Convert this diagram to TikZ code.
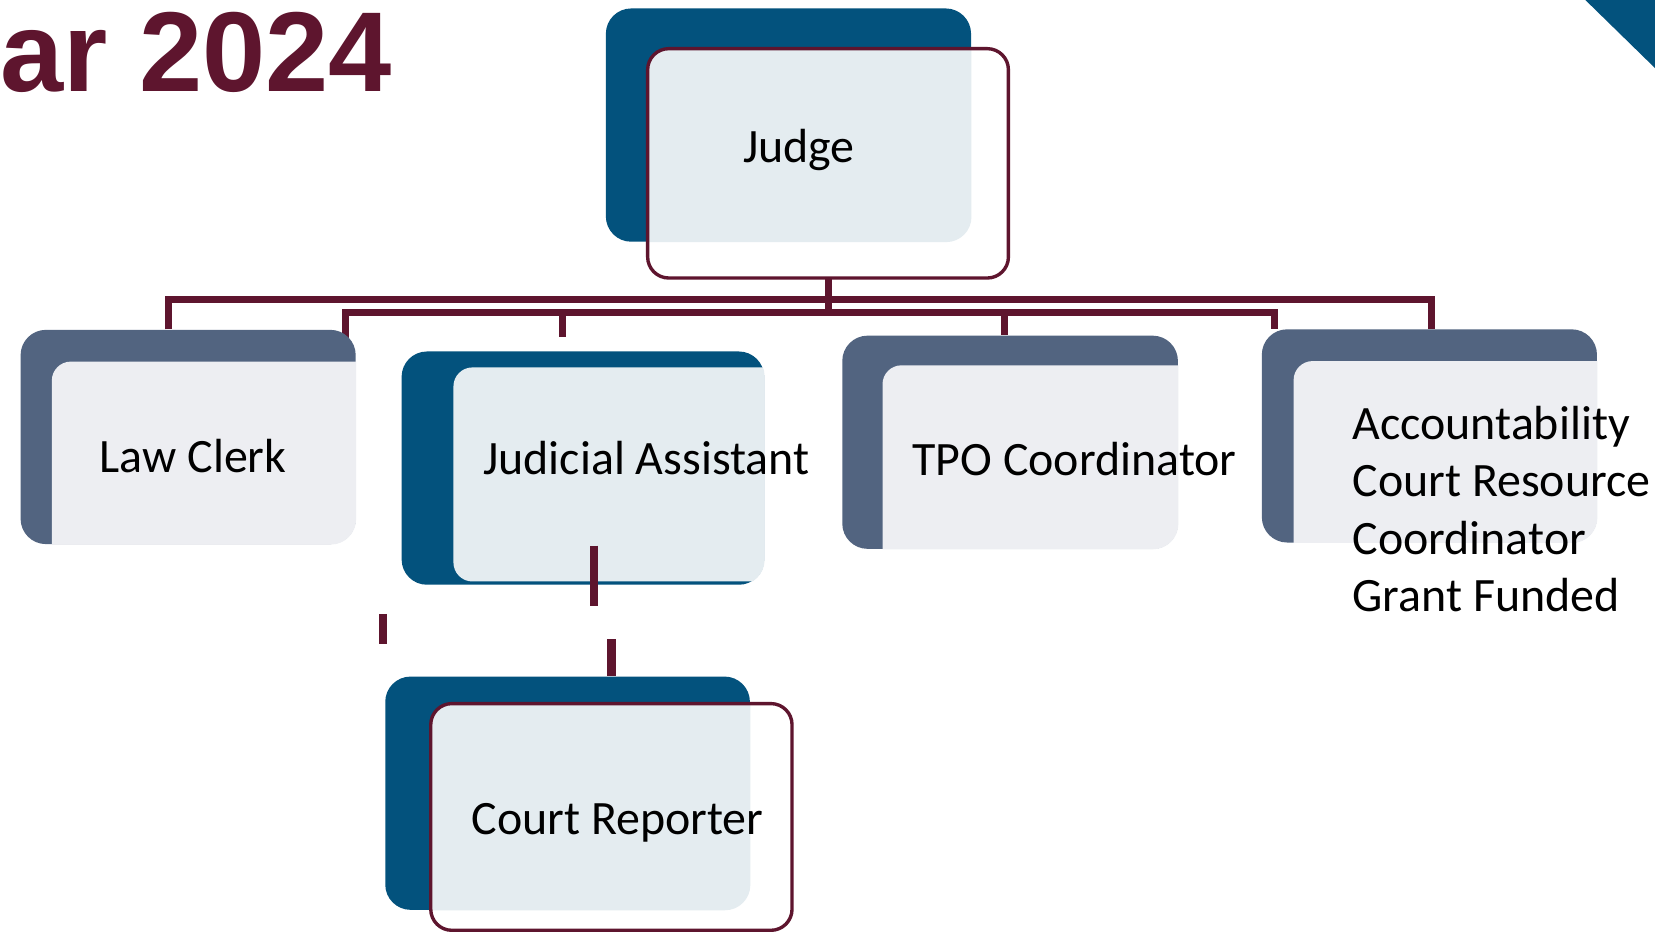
\documentclass[tikz,border=0pt]{standalone}
\usepackage{fontspec}
\setmainfont{Carlito}
\newfontfamily\headfont{Liberation Sans}
\usetikzlibrary{positioning, calc, fit, backgrounds}
\definecolor{navy}{RGB}{3,82,125}
\definecolor{slate}{RGB}{82,100,128}
\definecolor{paleblue}{RGB}{228,236,240}
\definecolor{palegrey}{RGB}{237,238,242}
\definecolor{wine}{RGB}{94,21,46}
\tikzset
{
backbox/.style={rectangle, rounded corners=12pt, inner sep=0, fill=#1},
frontbox/.style={rectangle, rounded corners=9pt, inner sep=0},
redline/.style={draw=wine, line width=1.6pt, rounded corners=10pt},
link/.style={draw=wine, line width=3.3pt},
stub/.style={draw=wine, line width=4pt},
role/.style={inner sep=0, font=\fontsize{22.7}{27.3}\selectfont, anchor=base},
heading/.style={inner sep=0, text=wine, font=\headfont\bfseries\fontsize{53.8}{60}\selectfont, anchor=base west}
}
\begin{document}
\begin{tikzpicture}[x=0.5pt, y=-0.5pt]
	\useasboundingbox (0,0) rectangle (1568,883);
	\coordinate (upl) at (159.5,283.5);
	\coordinate (upr) at (1356.5,283.5);
	\coordinate (lol) at (327,296);
	\coordinate (lor) at (1207.5,296);
	\coordinate (lolfoot) at (327,330);
	\coordinate (jahang) at (532.6,319.5);
	\coordinate (tpohang) at (951.5,296);

	\node[heading] (year) at (0,86.5) {ar 2024};
	\fill[navy] (1502,0) -- (1568,0) -- (1568,64.5) -- cycle;

	% judge
	\node[backbox=navy, fit={(574,8) (920,229)}] (judgeback) {};
	\node[frontbox, fill=white, fit={(614,46.5) (955,263)}] (judge) {};
	\begin{scope}
		\clip[rounded corners=12pt] (judgeback.south west) rectangle (judgeback.north east);
		\fill[paleblue, rounded corners=9pt] (judge.south west) rectangle (judge.north east);
	\end{scope}
	\draw[redline] (judge.south west) rectangle (judge.north east);
	\node[role] (judgetext) at (757,153.5) {Judge};

	% law clerk
	\node[backbox=slate, fit={(19.5,312.5) (337,515.5)}] (clerkback) {};
	\node[frontbox, fit={(49.5,343) (367,545)}] (clerk) {};
	\begin{scope}
		\clip[rounded corners=12pt] (clerkback.south west) rectangle (clerkback.north east);
		\fill[palegrey, rounded corners=9pt] (clerk.south west) rectangle (clerk.north east);
	\end{scope}
	\node[role] (clerktext) at (183,447.5) {Law Clerk};

	% judicial assistant
	\node[backbox=navy, fit={(380.5,333) (724,554)}] (jaback) {};
	\node[frontbox, fit={(430,348.5) (760,550.5)}] (ja) {};
	\begin{scope}
		\clip[rounded corners=12pt] (jaback.south west) rectangle (jaback.north east);
		\fill[paleblue, rounded corners=9pt] (ja.south west) rectangle (ja.north east);
	\end{scope}
	\node[role] (jatext) at (612.5,449.5) {Judicial Assistant};

	% tpo coordinator
	\node[backbox=slate, fit={(798,318) (1116,520)}] (tpoback) {};
	\node[frontbox, fit={(836.5,346.5) (1150,550)}] (tpo) {};
	\begin{scope}
		\clip[rounded corners=12pt] (tpoback.south west) rectangle (tpoback.north east);
		\fill[palegrey, rounded corners=9pt] (tpo.south west) rectangle (tpo.north east);
	\end{scope}
	\node[role] (tpotext) at (1018,450.5) {TPO Coordinator};

	% accountability court
	\node[backbox=slate, fit={(1195.5,312) (1513,514)}] (accback) {};
	\node[frontbox, fit={(1226,342.5) (1545,545)}] (acc) {};
	\begin{scope}
		\clip[rounded corners=12pt] (accback.south west) rectangle (accback.north east);
		\fill[palegrey, rounded corners=9pt] (acc.south west) rectangle (acc.north east);
	\end{scope}
	\node[role, anchor=north west, align=left] (acctext) at (1281,384)
		{Accountability\\Court Resource\\Coordinator\\Grant Funded};

	% court reporter
	\node[backbox=navy, fit={(365,641) (710.5,862)}] (crback) {};
	\node[frontbox, fill=white, fit={(408.5,667) (750,881)}] (cr) {};
	\begin{scope}
		\clip[rounded corners=12pt] (crback.south west) rectangle (crback.north east);
		\fill[paleblue, rounded corners=9pt] (cr.south west) rectangle (cr.north east);
	\end{scope}
	\draw[redline] (cr.south west) rectangle (cr.north east);
	\node[role] (crtext) at (585,791) {Court Reporter};

	\draw[stub] (563,517) coordinate (jatop) -- (563,574) coordinate (jafoot);
	\draw[stub] (363,581.7) coordinate (looseA) -- (363,609.8) coordinate (looseB);
	\draw[stub] (579.4,605.7) coordinate (crtop) -- (crtop |- crback.north);

	\begin{scope}[on background layer]
		\fill[white] (0,0) rectangle (1568,883);
		\draw[link] (clerkback.north -| upl) -- (upl) -- (upr) -- (accback.north -| upr);
		\draw[link] (lolfoot) -- (lol) -- (lor) -- (accback.north -| lor);
		\draw[link] (judge.south) -- (judge.south |- lol);
		\draw[link] (jahang |- lol) -- (jahang);
		\draw[link] (tpohang) -- (tpohang |- tpoback.north);
	\end{scope}
\end{tikzpicture}
\end{document}
